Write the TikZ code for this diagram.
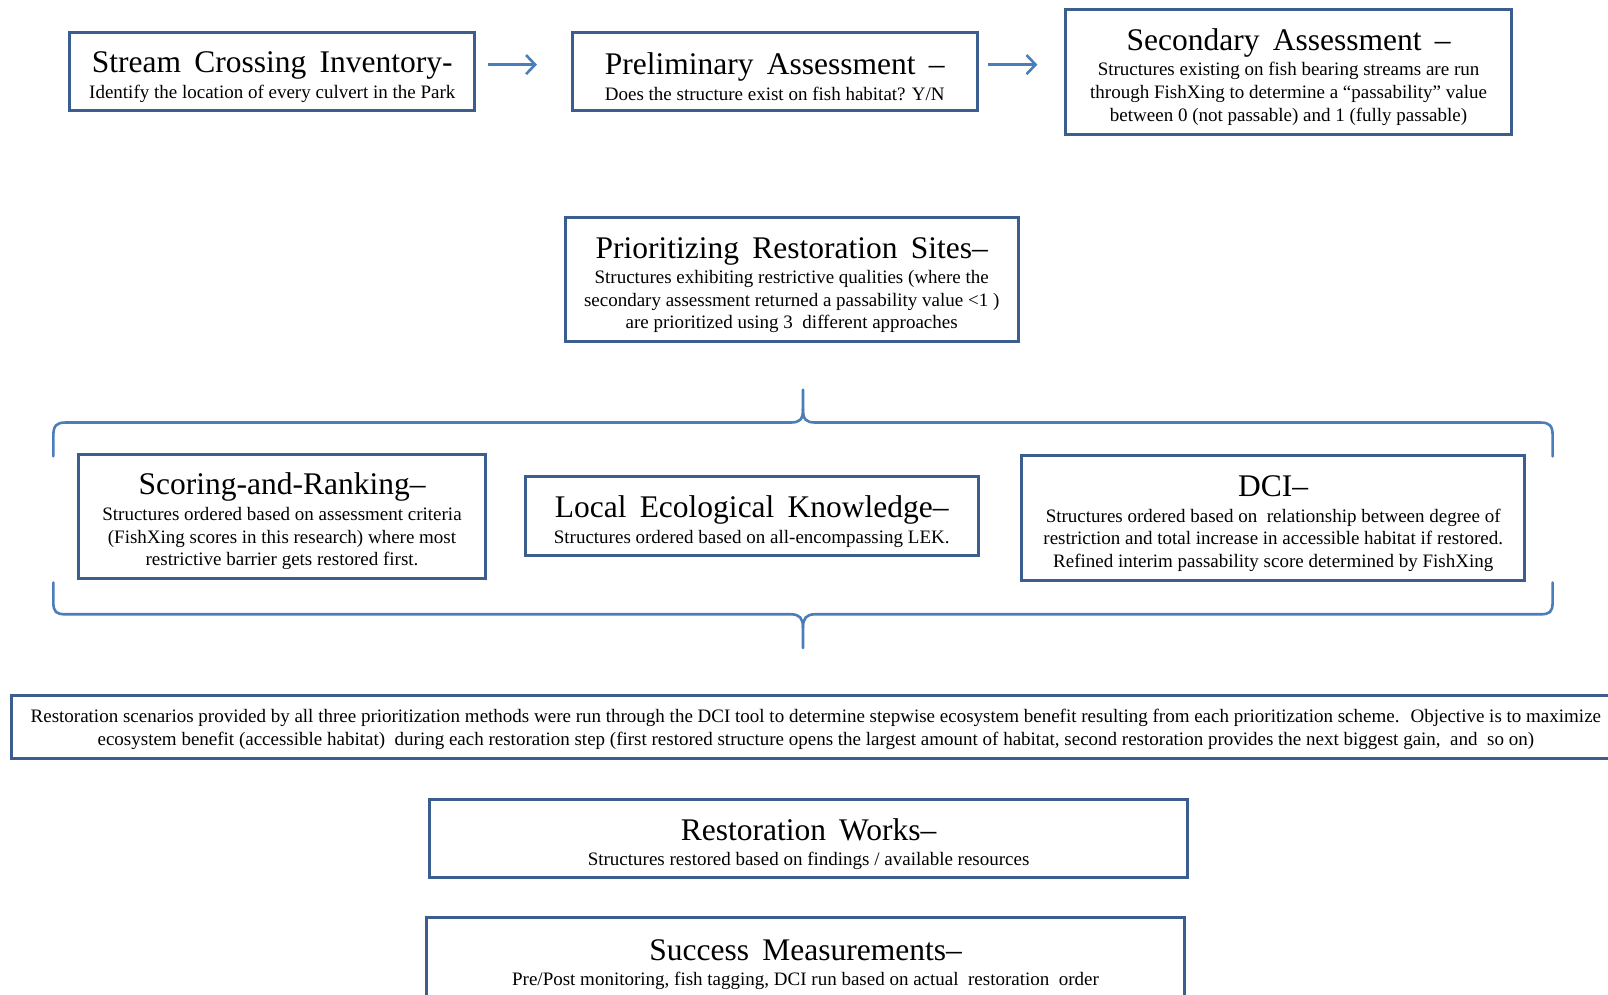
\documentclass[tikz,border=0pt]{standalone}
\usepackage{fontspec}
\setmainfont{Liberation Serif}
\usetikzlibrary{arrows.meta}
\definecolor{boxblue}{HTML}{3B5E8E}
\definecolor{linkblue}{HTML}{4A7EBB}
\newdimen\pxu \pxu=1.0255pt
\newcommand{\ttl}[1]{{\fontsize{31.5}{33}\selectfont\spaceskip=0.42em plus 0.1em\relax\rule{0pt}{32pt}#1}}
\begin{document}
\begin{tikzpicture}[x=1.0255pt,y=-1.0255pt,
  box/.style={draw=boxblue, line width=3pt, fill=white, align=center, inner sep=0pt,
    font=\fontsize{19}{22.6}\selectfont},
  link/.style={draw=linkblue, line width=2.6pt, -{Straight Barb[length=9pt,width=19pt,line width=2.6pt]}},
  bracket/.style={draw=linkblue, line width=2.6pt, line cap=round}]
\clip (0,0) rectangle (1568,970);
\fill[white] (0,0) rectangle (1568,970);

% top row
\node[box, minimum width=395\pxu, minimum height=76\pxu] (sci) at (265.5,70)
  {\ttl{Stream Crossing Inventory-}\\[3pt] Identify the location of every culvert in the Park};
\node[box, minimum width=395\pxu, minimum height=76\pxu] (pre) at (755.5,70)
  {\ttl{Preliminary Assessment –}\\[3pt] Does the structure exist on fish habitat? Y/N};
\node[box, minimum width=435\pxu, minimum height=122\pxu] (sec) at (1256.5,70)
  {\ttl{Secondary Assessment –}\\[3pt] Structures existing on fish bearing streams are run\\
   through FishXing to determine a “passability” value\\
   between 0 (not passable) and 1 (fully passable)};

\draw[link] ([xshift=11\pxu,yshift=7\pxu]sci.east) -- ([xshift=-33\pxu,yshift=7\pxu]pre.west);
\draw[link] ([xshift=9\pxu,yshift=7\pxu]pre.east) -- ([xshift=-26\pxu,yshift=7\pxu]sec.west);

% prioritizing
\node[box, minimum width=442\pxu, minimum height=121\pxu] (pri) at (772,272.5)
  {\ttl{Prioritizing Restoration Sites–}\\[3pt] Structures exhibiting restrictive qualities (where the\\
   secondary assessment returned a passability value <1 )\\
   are prioritized using 3~ different approaches};

% top brace
\coordinate (tl) at (52,445);
\coordinate (tr) at (1514,445);
\coordinate (tt) at (783,380);
\draw[bracket] (tl) -- (52,425) .. controls (52,415) and (55,412) .. (64,412) -- (771,412)
  .. controls (780,412) and (783,409) .. (783,399) -- (tt);
\draw[bracket] (783,399) .. controls (783,409) and (786,412) .. (795,412) -- (1502,412)
  .. controls (1511,412) and (1514,415) .. (1514,425) -- (tr);

% three approaches
\node[box, minimum width=396\pxu, minimum height=121\pxu] (sar) at (275,503.5)
  {\ttl{Scoring-and-Ranking–}\\[3pt] Structures ordered based on assessment criteria\\
   (FishXing scores in this research) where most\\
   restrictive barrier gets restored first.};
\node[box, minimum width=442\pxu, minimum height=77\pxu] (lek) at (733,503.5)
  {\ttl{Local Ecological Knowledge–}\\[3pt] Structures ordered based on all-encompassing LEK.};
\node[box, minimum width=491\pxu, minimum height=122\pxu] (dci) at (1241.5,505)
  {\ttl{DCI–}\\[3pt] Structures ordered based on~ relationship between degree of\\
   restriction and total increase in accessible habitat if restored.\\
   Refined interim passability score determined by FishXing};

% bottom brace
\coordinate (bl) at (52,568);
\coordinate (br) at (1514,568);
\coordinate (bt) at (783,632);
\draw[bracket] (bl) -- (52,587) .. controls (52,597) and (55,599) .. (64,599) -- (771,599)
  .. controls (780,599) and (783,603) .. (783,612) -- (bt);
\draw[bracket] (783,612) .. controls (783,603) and (786,599) .. (795,599) -- (1502,599)
  .. controls (1511,599) and (1514,597) .. (1514,587) -- (br);

% scenarios
\node[box, minimum width=1569\pxu, minimum height=62\pxu] (scn) at (795.5,709)
  {\rule{0pt}{18pt}Restoration scenarios provided by all three prioritization methods were run through the DCI tool to determine stepwise ecosystem benefit resulting from each prioritization scheme.~ Objective is to maximize\\
   ecosystem benefit (accessible habitat)~ during each restoration step (first restored structure opens the largest amount of habitat, second restoration provides the next biggest gain,~ and~ so on)};

% works and success
\node[box, minimum width=739\pxu, minimum height=76\pxu] (rw) at (788.5,818)
  {\ttl{Restoration Works–}\\[3pt] Structures restored based on findings / available resources};
\node[box, minimum width=739\pxu, minimum height=80\pxu] (sm) at (785.5,935)
  {\ttl{Success Measurements–}\\[3pt] Pre/Post monitoring, fish tagging, DCI run based on actual~ restoration~ order};
\end{tikzpicture}
\end{document}
